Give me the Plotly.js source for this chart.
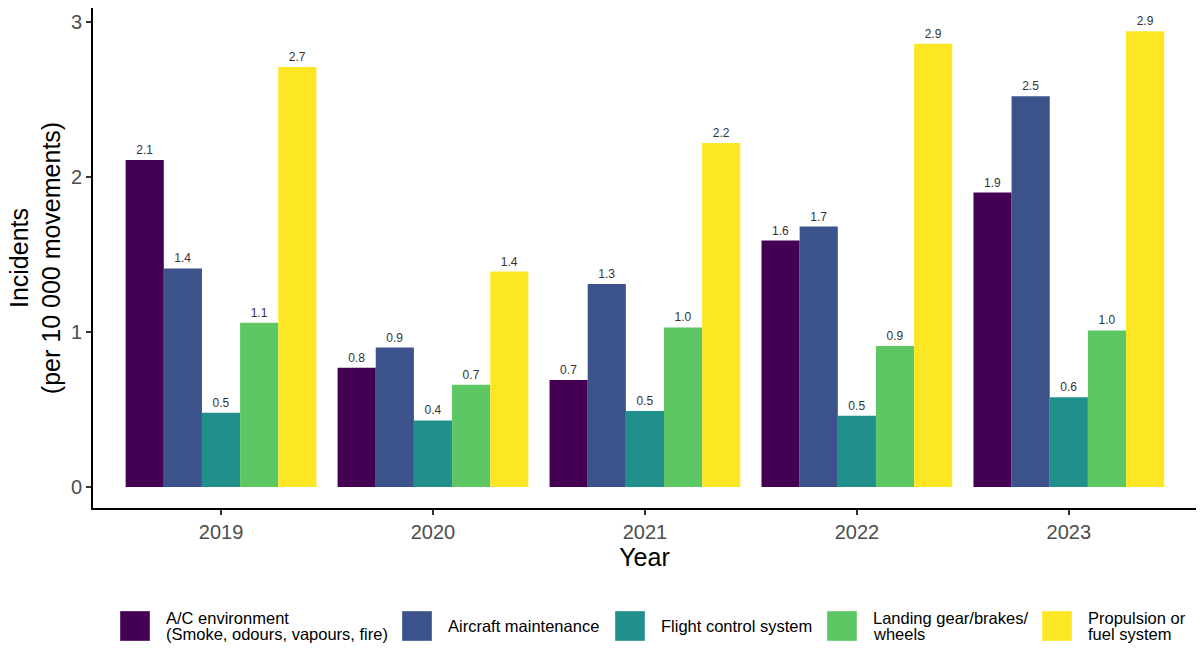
<!DOCTYPE html>
<html>
<head>
<meta charset="utf-8">
<script src="https://cdn.plot.ly/plotly-3.0.1.min.js"></script>
<style>html,body{margin:0;padding:0;background:#fff;}#chart{width:1202px;height:648px;}</style>
</head>
<body>
<div id="chart"></div>
<script>
const years = ['2019', '2020', '2021', '2022', '2023'];
const seriesNames = [
  'A/C environment<br>(Smoke, odours, vapours, fire)',
  'Aircraft maintenance',
  'Flight control system',
  'Landing gear/brakes/<br>wheels',
  'Propulsion or<br>fuel system'
];
const acEnvironment = [2.11, 0.77, 0.69, 1.59, 1.90];
const aircraftMaintenance = [1.41, 0.90, 1.31, 1.68, 2.52];
const flightControl = [0.48, 0.43, 0.49, 0.46, 0.58];
const landingGear = [1.06, 0.66, 1.03, 0.91, 1.01];
const propulsion = [2.71, 1.39, 2.22, 2.86, 2.94];
const colors = ['#440154', '#3B528B', '#21908C', '#5DC863', '#FDE725'];

const seriesValues = [acEnvironment, aircraftMaintenance, flightControl, landingGear, propulsion];
const font = 'Liberation Sans, Arial, sans-serif';

const W = 1202, H = 648;
const M = {l: 93, r: 6, t: 8, b: 140};
const plotW = W - M.l - M.r, plotH = H - M.t - M.b;
const px2x = px => (px - M.l) / plotW;
const py2y = py => (H - M.b - py) / plotH;

const traces = seriesValues.map((vals, i) => ({
  type: 'bar',
  name: seriesNames[i].replace('<br>', ' '),
  x: years,
  y: vals,
  marker: {color: colors[i], line: {width: 0}},
  text: vals.map(v => v.toFixed(1)),
  texttemplate: '%{text}',
  textposition: 'outside',
  textfont: {family: font, size: 12, color: '#333'},
  cliponaxis: false,
  showlegend: false
}));

// Custom legend (ggplot-style large key squares)
const keyLeft = [120, 402, 615, 827, 1042];
const keySize = 30, keyCenterY = 626, keyGap = 14, lineStep = 16.5;
const shapes = [];
const annotations = [];
seriesNames.forEach((name, i) => {
  shapes.push({
    type: 'rect', xref: 'paper', yref: 'paper',
    x0: px2x(keyLeft[i]), x1: px2x(keyLeft[i] + keySize),
    y0: py2y(keyCenterY + keySize / 2), y1: py2y(keyCenterY - keySize / 2),
    fillcolor: colors[i], line: {width: 0.6, color: 'rgba(255,255,255,0.6)'}
  });
  const lines = name.split('<br>');
  lines.forEach((ln, j) => {
    const cy = keyCenterY + (j - (lines.length - 1) / 2) * lineStep;
    annotations.push({
      xref: 'paper', yref: 'paper',
      x: px2x(keyLeft[i] + keySize + keyGap), y: py2y(cy),
      xanchor: 'left', yanchor: 'middle', align: 'left',
      text: ln, showarrow: false,
      font: {family: font, size: 16.5, color: '#000'}
    });
  });
});

const layout = {
  width: W, height: H,
  margin: M,
  paper_bgcolor: '#fff', plot_bgcolor: '#fff',
  barmode: 'group', bargap: 0.1, bargroupgap: 0,
  font: {family: font},
  showlegend: false,
  xaxis: {
    type: 'category',
    range: [-0.604, 4.6],
    showline: true, linecolor: '#000', linewidth: 2,
    ticks: 'outside', ticklen: 5, tickcolor: '#333', tickwidth: 2,
    tickfont: {family: font, size: 20, color: '#4d4d4d'},
    showgrid: false, zeroline: false, automargin: false,
    title: {text: 'Year', font: {family: font, size: 25, color: '#000'}, standoff: 6}
  },
  yaxis: {
    range: [-0.135, 3.09],
    tickvals: [0, 1, 2, 3],
    ticktext: ['0', '1', '2', '3'],
    showline: true, linecolor: '#000', linewidth: 2,
    ticks: 'outside', ticklen: 5, tickcolor: '#333', tickwidth: 2,
    tickfont: {family: font, size: 20, color: '#4d4d4d'},
    showgrid: false, zeroline: false, automargin: false,
    title: {text: 'Incidents<br>(per 10 000 movements)', font: {family: font, size: 25, color: '#000'}, standoff: 3}
  },
  shapes: shapes,
  annotations: annotations
};

Plotly.newPlot('chart', traces, layout, {displayModeBar: false, staticPlot: true});
</script>
</body>
</html>
